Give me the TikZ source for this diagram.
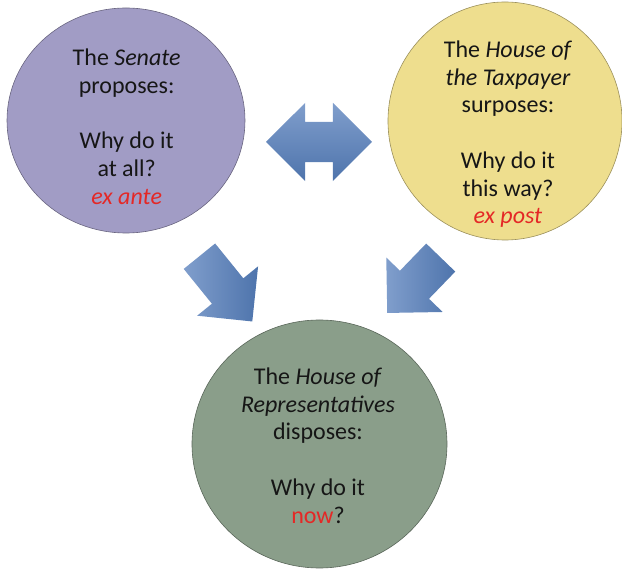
\documentclass[tikz,border=0pt]{standalone}
\usepackage{fontspec}
\setmainfont{Carlito}
\usetikzlibrary{shapes.geometric,shapes.arrows}
\definecolor{senatepurple}{RGB}{161,156,197}
\definecolor{taxyellow}{RGB}{238,222,142}
\definecolor{repgreen}{RGB}{138,158,138}
\definecolor{arrowlight}{RGB}{128,158,204}
\definecolor{arrowdark}{RGB}{78,116,172}
\definecolor{exred}{RGB}{228,40,38}
\definecolor{textgray}{RGB}{22,22,22}
\newcommand{\hl}[1]{\textcolor{exred}{#1}}
\tikzset{
  house/.style={ellipse, inner sep=0pt, line width=0.6pt},
  housetext/.style={align=center, anchor=north, text=textgray,
    font=\fontsize{24}{27.6}\selectfont},
  blockarrow/.style={single arrow, single arrow head extend=19pt,
    single arrow tip angle=90, inner xsep=0pt, inner ysep=20pt,
    minimum width=78pt, left color=arrowlight, right color=arrowdark, draw=none},
  twoarrow/.style={double arrow, double arrow head extend=19pt,
    double arrow tip angle=90, inner xsep=0pt, inner ysep=20pt,
    minimum width=78pt, top color=arrowlight, bottom color=arrowdark, draw=none}
}

\begin{document}
\begin{tikzpicture}[x=1pt,y=-1pt]
\useasboundingbox (0,0) rectangle (622,569);

% Senate
\node[house, fill=senatepurple, draw=senatepurple!65!black,
  minimum width=238pt, minimum height=225pt] (senate) at (126,120.5) {};
\node[housetext] (senatetext) at (126.7,45.5)
  {The \textit{Senate}\\ proposes:\\[28pt] Why do it\\ at all?\\ \hl{\textit{ex ante}}};

% House of the Taxpayer
\node[house, fill=taxyellow, draw=taxyellow!65!black,
  minimum width=234pt, minimum height=238pt] (taxpayer) at (505,121) {};
\node[housetext] (taxpayertext) at (508,37.5)
  {The \textit{House of}\\ \textit{the Taxpayer}\\ surposes:\\[28pt] Why do it\\ this way?\\ \hl{\textit{ex post}}};

% House of Representatives
\node[house, fill=repgreen, draw=repgreen!65!black,
  minimum width=255pt, minimum height=248pt] (reps) at (319.5,444) {};
\node[housetext] (repstext) at (318,364.5)
  {The \textit{House of}\\ \textit{Representatives}\\ disposes:\\[28pt] Why do it\\ \hl{now}?};

% Arrows
\node[twoarrow, minimum height=106pt] (between) at (319,142) {};
\node[blockarrow, minimum height=84pt, rotate=-51] (senatedown) at (219.5,281) {};
\node[blockarrow, minimum height=77pt, rotate=-134] (taxpayerdown) at (421,278) {};
\end{tikzpicture}
\end{document}
